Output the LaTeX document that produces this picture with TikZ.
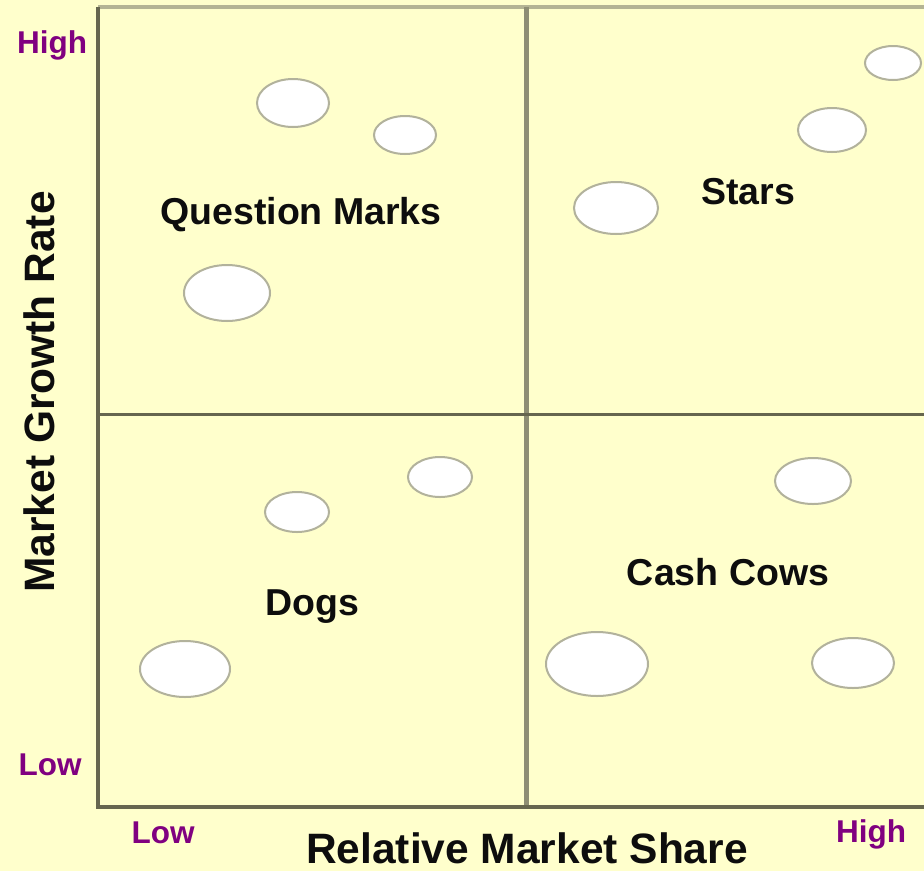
\documentclass[tikz,border=0pt]{standalone}
\usepackage{fontspec}
\setmainfont{Liberation Sans}
\usetikzlibrary{shapes.geometric}
\definecolor{paper}{HTML}{FFFFCC}
\definecolor{frameline}{HTML}{66664F}
\definecolor{midline}{HTML}{8E8E74}
\definecolor{topline}{HTML}{B4B494}
\definecolor{rimgray}{HTML}{B2B29C}
\definecolor{lvl}{HTML}{800080}
\begin{document}
\begin{tikzpicture}[x=1pt, y=-1pt,
            unit/.style={ellipse, draw=rimgray, line width=2pt, fill=white, inner sep=0},
            quad/.style={font=\fontsize{37.5}{37.5}\selectfont\bfseries, text=black!95},
            axis/.style={font=\fontsize{42.5}{42.5}\selectfont\bfseries, text=black!95},
            lvlmark/.style={font=\fontsize{31.5}{31.5}\selectfont\bfseries, text=lvl},
        ]
        \fill[paper] (0,0) rectangle (924,871);
        \useasboundingbox (0,0) rectangle (924,871);
        % grid of the four quadrants
        \coordinate (TL) at (98,7);
        \coordinate (BL) at (98,807);
        \coordinate (BR) at (924,807);
        \coordinate (TR) at (924,7);
        \draw[topline, line width=4pt] (TL) -- (TR);
        \draw[midline, line width=5pt] (526,7) -- (526,807);
        \draw[frameline, line width=3.5pt] (98,414.5) -- (924,414.5);
        \draw[frameline, line width=3.5pt] (TL) -- (BL) -- (BR);
        % business units
        \node[unit, minimum width=72, minimum height=48] (q1) at (293,103) {};
        \node[unit, minimum width=62, minimum height=38] (q2) at (405,135) {};
        \node[unit, minimum width=86, minimum height=56] (q3) at (227,293) {};
        \node[unit, minimum width=56, minimum height=34] (s1) at (893,63) {};
        \node[unit, minimum width=68, minimum height=44] (s2) at (832,130) {};
        \node[unit, minimum width=84, minimum height=52] (s3) at (616,208) {};
        \node[unit, minimum width=64, minimum height=40] (d1) at (440,477) {};
        \node[unit, minimum width=64, minimum height=40] (d2) at (297,512) {};
        \node[unit, minimum width=90, minimum height=56] (d3) at (185,669) {};
        \node[unit, minimum width=76, minimum height=46] (c1) at (813,481) {};
        \node[unit, minimum width=102, minimum height=64] (c2) at (597,664) {};
        \node[unit, minimum width=82, minimum height=50] (c3) at (853,663) {};
        % quadrant names
        \node[quad] (qm) at (301,215) {Question Marks};
        \node[quad] (st) at (748,192) {Stars};
        \node[quad] (dg) at (312,607) {Dogs};
        \node[quad] (cc) at (728,572) {Cash Cows};
        % axes
        \node[axis, rotate=90] (ylab) at (39,392) {Market Growth Rate};
        \node[axis] (xlab) at (527,848) {Relative Market Share};
        \node[lvlmark] (yhi) at (52,45) {High};
        \node[lvlmark] (ylo) at (50,765) {Low};
        \node[lvlmark] (xlo) at (163,833) {Low};
        \node[lvlmark] (xhi) at (871,834) {High};
    \end{tikzpicture}
\end{document}
